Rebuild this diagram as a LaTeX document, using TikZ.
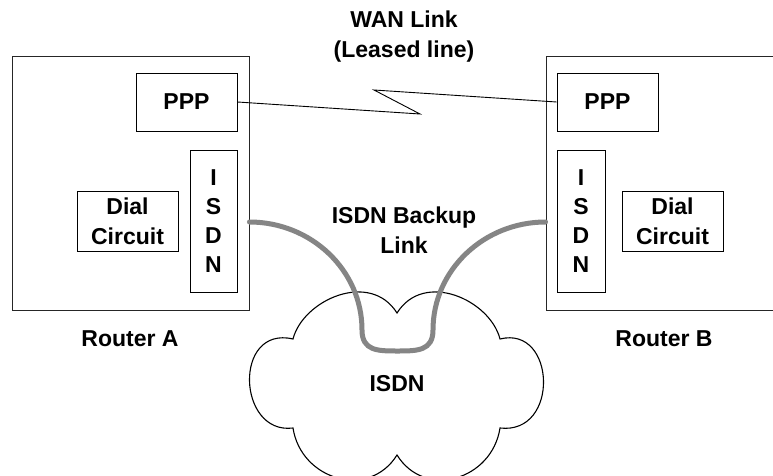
\documentclass[tikz,border=0pt]{standalone}
\usepackage{fontspec}
\setmainfont{Liberation Sans}
\begin{document}
\begin{tikzpicture}[x=1pt,y=-1pt,
  lbl/.style={font=\fontsize{23}{30}\selectfont\bfseries, align=center, inner sep=0pt},
  router/.style={draw=black!85, line width=0.9pt, inner sep=0pt},
  box/.style={draw=black, line width=0.9pt, inner sep=0pt, font=\fontsize{23}{29}\selectfont\bfseries, align=center},
  wan/.style={draw=black, line width=0.9pt, line join=miter},
  backup/.style={draw=black!48, line width=5pt, line cap=round},
  cloudline/.style={draw=black, line width=1.1pt}]
\useasboundingbox (0,0) rectangle (773,476);
\clip (0,0) rectangle (773,476);
\fill[white] (0,0) rectangle (773,476);

% routers
\node[router, minimum width=237pt, minimum height=254pt] (ra) at (130.5,183) {};
\node[router, minimum width=237pt, minimum height=254pt] (rb) at (664.5,183) {};

% inner boxes router A
\node[box, minimum width=101pt, minimum height=58pt] (pppa) at (186.5,102) {PPP};
\node[box, minimum width=47pt, minimum height=142pt] (isdna) at (213.5,221) {I\\S\\D\\N};
\node[box, minimum width=101pt, minimum height=60pt, font=\fontsize{23}{30}\selectfont\bfseries] (diala) at (127.5,221) {Dial\\Circuit};

% inner boxes router B
\node[box, minimum width=101pt, minimum height=58pt] (pppb) at (607.5,102) {PPP};
\node[box, minimum width=48pt, minimum height=142pt] (isdnb) at (581,221) {I\\S\\D\\N};
\node[box, minimum width=101pt, minimum height=60pt, font=\fontsize{23}{30}\selectfont\bfseries] (dialb) at (672.5,221) {Dial\\Circuit};

% labels
\node[lbl] (wanlbl) at (404,37) {WAN Link\\(Leased line)};
\node[lbl] (bklbl) at (404,230) {ISDN Backup\\Link};
\node[lbl] (rala) at (130,339) {Router A};
\node[lbl] (ralb) at (664,339) {Router B};

% WAN link (lightning)
\coordinate (z1) at (420,114);
\coordinate (z2) at (374,90);
\draw[wan] (pppa.east) -- (z1) -- (z2) -- (pppb.west);

% cloud
\coordinate (j1) at (293,339);
\coordinate (d1) at (397,313);
\coordinate (j2) at (500,339);
\coordinate (j3) at (500,428);
\coordinate (d2) at (397,455);
\coordinate (j4) at (293,428);
\draw[cloudline, fill=white] (j1) .. controls (303,300) and (370,270) .. (d1)
  .. controls (424,270) and (490,300) .. (j2)
  .. controls (556,325) and (560,435) .. (j3)
  .. controls (492,480) and (425,500) .. (d2)
  .. controls (369,500) and (301,480) .. (j4)
  .. controls (237,435) and (233,325) .. (j1) -- cycle;
\node[lbl] (isdncloud) at (397,384) {ISDN};

% ISDN backup link
\coordinate (ua) at (ra.east |- 0,222);
\coordinate (ub) at (rb.west |- 0,222);
\coordinate (ul) at (362,330);
\coordinate (um) at (397.5,351);
\coordinate (ur) at (433,330);
\draw[backup] (ua) .. controls (311,222) and (362,270) .. (ul)
  .. controls (362,351) and (378,351) .. (um)
  .. controls (417,351) and (433,351) .. (ur)
  .. controls (433,270) and (484,222) .. (ub);
\end{tikzpicture}
\end{document}
